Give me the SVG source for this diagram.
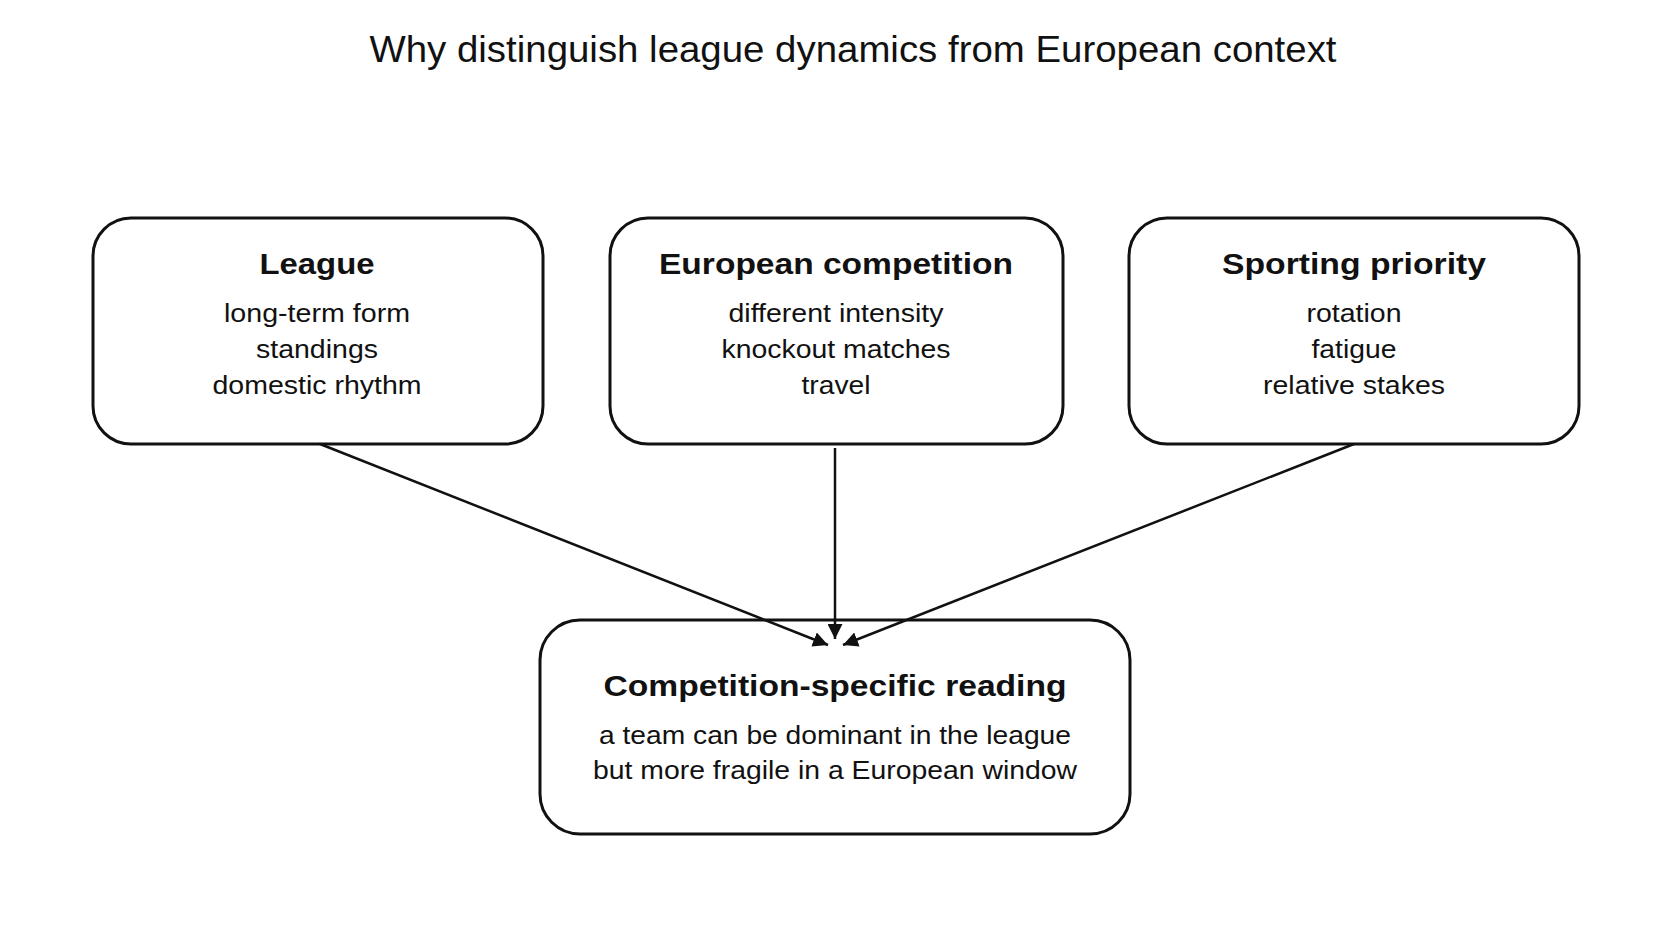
<svg xmlns="http://www.w3.org/2000/svg" width="1672" height="941" viewBox="0 0 1672 941">
<style>
text{font-family:"Liberation Sans",Arial,sans-serif;text-anchor:middle;fill:#111}
.t{font-size:36px}
.h{font-size:29px;font-weight:bold}
.b{font-size:26px}
rect{fill:#fff;stroke:#111;stroke-width:3}
.c line{stroke:#111;stroke-width:2.5}
</style>
<defs><marker id="a" viewBox="0 0 10 10" refX="10" refY="5" markerWidth="6" markerHeight="6" orient="auto"><path d="M0,0L10,5L0,10z" fill="#111"/></marker></defs>
<rect width="1672" height="941" style="fill:#fff;stroke:none"/>
<text class="t" x="853" y="62" textLength="967" lengthAdjust="spacingAndGlyphs">Why distinguish league dynamics from European context</text>
<g id="league"><rect x="93" y="218" width="450" height="226" rx="38"/>
<text class="h" x="317" y="274" textLength="115" lengthAdjust="spacingAndGlyphs">League</text>
<text class="b" x="317" y="322" textLength="186" lengthAdjust="spacingAndGlyphs">long-term form</text><text class="b" x="317" y="358" textLength="122" lengthAdjust="spacingAndGlyphs">standings</text><text class="b" x="317" y="394" textLength="209" lengthAdjust="spacingAndGlyphs">domestic rhythm</text></g>
<g id="european"><rect x="610" y="218" width="453" height="226" rx="38"/>
<text class="h" x="836" y="274" textLength="354" lengthAdjust="spacingAndGlyphs">European competition</text>
<text class="b" x="836" y="322" textLength="215" lengthAdjust="spacingAndGlyphs">different intensity</text><text class="b" x="836" y="358" textLength="229" lengthAdjust="spacingAndGlyphs">knockout matches</text><text class="b" x="836" y="394" textLength="69" lengthAdjust="spacingAndGlyphs">travel</text></g>
<g id="priority"><rect x="1129" y="218" width="450" height="226" rx="38"/>
<text class="h" x="1354" y="274" textLength="264" lengthAdjust="spacingAndGlyphs">Sporting priority</text>
<text class="b" x="1354" y="322" textLength="95" lengthAdjust="spacingAndGlyphs">rotation</text><text class="b" x="1354" y="358" textLength="85" lengthAdjust="spacingAndGlyphs">fatigue</text><text class="b" x="1354" y="394" textLength="182" lengthAdjust="spacingAndGlyphs">relative stakes</text></g>
<g id="reading"><rect x="540" y="620" width="590" height="214" rx="40"/>
<text class="h" x="835" y="696" textLength="463" lengthAdjust="spacingAndGlyphs">Competition-specific reading</text>
<text class="b" x="835" y="744" textLength="472" lengthAdjust="spacingAndGlyphs">a team can be dominant in the league</text>
<text class="b" x="835" y="779" textLength="484" lengthAdjust="spacingAndGlyphs">but more fragile in a European window</text></g>
<g class="c">
<line x1="320" y1="444" x2="828" y2="645" marker-end="url(#a)"/>
<line x1="835" y1="448" x2="835" y2="639" marker-end="url(#a)"/>
<line x1="1354" y1="444" x2="843" y2="645" marker-end="url(#a)"/>
</g>
</svg>
